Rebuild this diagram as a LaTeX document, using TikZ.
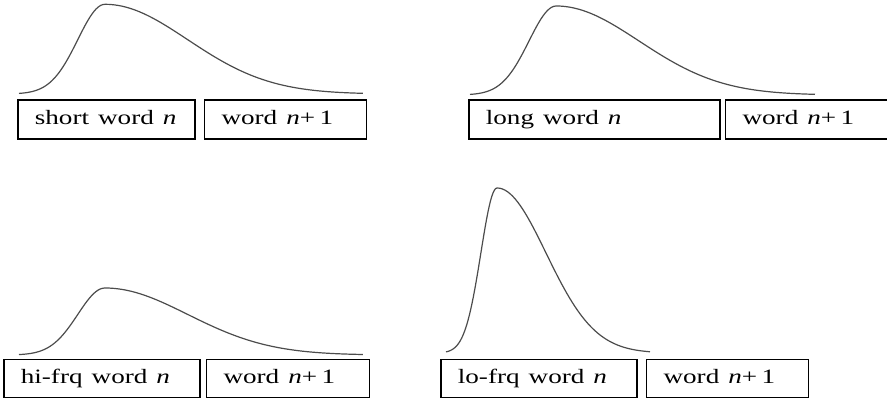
\documentclass[tikz,border=0pt]{standalone}
\usepackage{fontspec}
\setmainfont{Liberation Serif}
\usepackage{graphicx}
\usetikzlibrary{positioning}
\newcommand\wideword[1]{\scalebox{1.33}[1]{#1}}
\begin{document}
\begin{tikzpicture}[x=0.5pt,y=0.5pt,
	wordbox/.style={draw,line width=0.85pt,anchor=west,inner xsep=8.5pt,inner ysep=0pt,
		minimum height=19.5pt,text height=7pt,text depth=1.8pt,align=left,
		font=\fontsize{10.2}{12}\selectfont},
	rtcurve/.style={draw=black!70,line width=0.6pt,line join=round}]
		\useasboundingbox (0,0) rectangle (887,398);
		% fixation-time distributions
		\foreach \cx/\cy/\cw/\ch in {19/304/344/89.7,470/303/345/89,19/43/344/67,446/45/204/165}
		\draw[rtcurve,shift={(\cx,\cy)},xscale=\cw,yscale=\ch]
			plot[domain=0:0.25,samples=40,variable=\u] (\u,{exp(-0.5*((\u-0.25)/0.079)^2)})
			-- plot[domain=0.25:1,samples=60,variable=\u] (\u,{exp(-0.5*((\u-0.25)/0.24)^2)});
		% word boxes
		\node[wordbox,text width=71.5pt] (short) at (17,278.5) {\wideword{short word \textit{n}}};
		\node[wordbox,text width=64pt,right=4pt of short] (shortnext) {\wideword{word \textit{n}+\,1}};
		\node[wordbox,text width=108.5pt] (long) at (468,278.5) {\wideword{long word \textit{n}}};
		\node[wordbox,text width=64.5pt,right=2pt of long] (longnext) {\wideword{word \textit{n}+\,1}};
		\node[wordbox,text width=81pt,minimum height=19pt] (hifrq) at (3,19.5) {\wideword{hi-frq word \textit{n}}};
		\node[wordbox,text width=64.5pt,minimum height=19pt,right=2.5pt of hifrq] (hifrqnext) {\wideword{word \textit{n}+\,1}};
		\node[wordbox,text width=81pt,minimum height=19pt] (lofrq) at (440,19.5) {\wideword{lo-frq word \textit{n}}};
		\node[wordbox,text width=64pt,minimum height=19pt,right=4pt of lofrq] (lofrqnext) {\wideword{word \textit{n}+\,1}};
		\end{tikzpicture}
\end{document}
